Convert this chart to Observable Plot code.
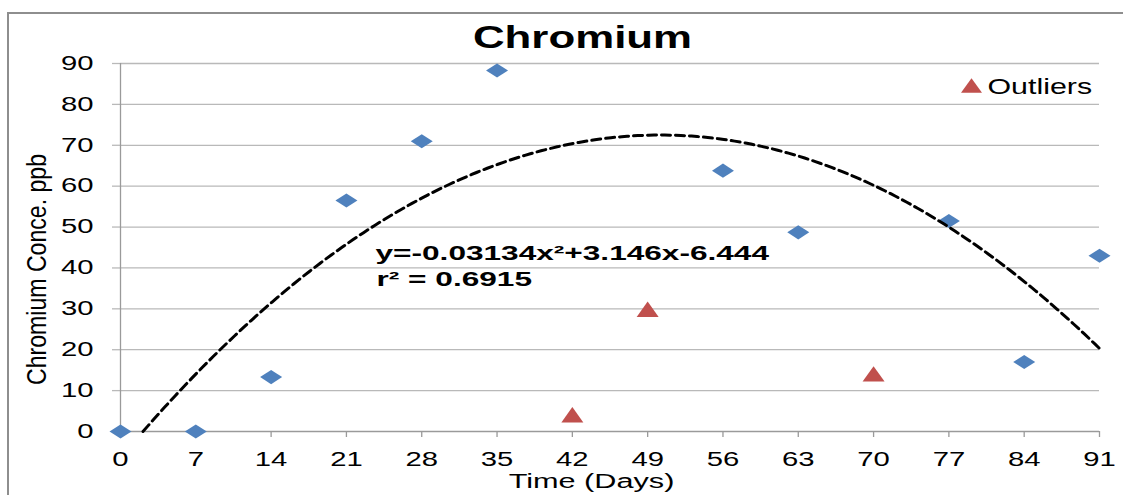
<!DOCTYPE html>
<html><head><meta charset="utf-8">
<script src="https://cdn.jsdelivr.net/npm/d3@7"></script>
<script src="https://cdn.jsdelivr.net/npm/@observablehq/plot@0.6"></script>
<style>
html,body{margin:0;padding:0;background:#fff;overflow:hidden;}
#wrap{position:relative;width:1123px;height:495px;}
#frame{position:absolute;left:7px;top:12px;width:1200px;height:600px;border:2px solid #8e8e8e;box-sizing:border-box;pointer-events:none;}
</style></head><body><div id="wrap"><div id="chart"></div><div id="frame"></div></div>
<script>
// ---- data ----
const days = [0, 7, 14, 21, 28, 35, 56, 63, 77, 84, 91];
const conc = [0, 0, 13.3, 56.5, 71, 88.3, 63.8, 48.7, 51.5, 17, 43];
const outlierDays = [42, 49, 70];
const outlierConc = [4.1, 29.9, 14.1];
const xTicks = [0, 7, 14, 21, 28, 35, 42, 49, 56, 63, 70, 77, 84, 91];
const yTicks = [0, 10, 20, 30, 40, 50, 60, 70, 80, 90];
const trendCoef = [-0.03134, 3.146, -6.444]; // a, b, c of displayed trendline
const titleText = "Chromium";
const legendLabel = "Outliers";
const eqLine1 = "y=-0.03134x²+3.146x-6.444";
const eqLine2 = "r² = 0.6915";
const xLabel = "Time (Days)";
const yLabel = "Chromium Conce. ppb";

// ---- tables ----
const points = days.map((d, i) => ({day: d, value: conc[i]}));
const outliers = outlierDays.map((d, i) => ({day: d, value: outlierConc[i]}));
const [a, b, c] = trendCoef;
const root = (-b + Math.sqrt(b * b - 4 * a * c)) / (2 * a);
const xMax = xTicks[xTicks.length - 1];
const trend = d3.range(root, xMax, 0.5).concat([xMax]).map(x => ({day: x, value: a * x * x + b * x + c}));

// ---- custom symbols ----
const diamondSym = {draw(ctx, size) {
  const r = Math.sqrt(size / Math.PI), w = r, h = r * 0.64;
  ctx.moveTo(0, -h); ctx.lineTo(w, 0); ctx.lineTo(0, h); ctx.lineTo(-w, 0); ctx.closePath();
}};
const triSym = {draw(ctx, size) {
  const r = Math.sqrt(size / Math.PI), w = r, h = r * 0.7;
  ctx.moveTo(0, -h); ctx.lineTo(w, h); ctx.lineTo(-w, h); ctx.closePath();
}};

const blue = "#4F81BD", red = "#C0504D", gridC = "#b9b9b9", axisC = "#9a9a9a";

const chart = Plot.plot({
  width: 1123, height: 495,
  marginLeft: 120, marginRight: 24, marginTop: 63, marginBottom: 64,
  style: {fontFamily: "'Liberation Sans', Arial, sans-serif", fontSize: "19px", color: "#000", background: "#fff"},
  x: {domain: [0, 91], ticks: xTicks},
  y: {domain: [0, 90], ticks: yTicks},
  marks: [
    Plot.gridY(yTicks.filter(v => v > 0), {stroke: gridC, strokeOpacity: 1, strokeWidth: 1.3}),
    Plot.axisY(yTicks, {tickSize: 8, tickPadding: 19, stroke: gridC, strokeWidth: 1.3, fill: "#000", fontSize: 19.5, label: null}),
    Plot.axisX(xTicks, {tickSize: 6, tickPadding: 15, stroke: axisC, strokeWidth: 1.3, fill: "#000", fontSize: 19.5, label: null}),
    Plot.ruleX([0], {stroke: axisC, strokeWidth: 1.3}),
    Plot.ruleY([0], {stroke: axisC, strokeWidth: 1.3}),
    Plot.dot(points, {x: "day", y: "value", symbol: diamondSym, r: 11, fill: blue}),
    Plot.dot(outliers, {x: "day", y: "value", symbol: triSym, r: 11, fill: red}),
    Plot.line(trend, {x: "day", y: "value", stroke: "#000", strokeWidth: 3, strokeDasharray: "9,5"}),
    // title
    Plot.text([titleText], {text: d => d, frameAnchor: "top-left", dx: 462, dy: -16, textAnchor: "middle", lineAnchor: "bottom", fontSize: 32, fontWeight: "bold", fill: "#000"}),
    // legend
    Plot.dot([legendLabel], {frameAnchor: "top-left", dx: 851, dy: 22, symbol: triSym, r: 10.5, fill: red}),
    Plot.text([legendLabel], {text: d => d, frameAnchor: "top-left", dx: 867, dy: 30, textAnchor: "start", lineAnchor: "bottom", fontSize: 22, fill: "#000"}),
    // equation
    Plot.text([eqLine1], {text: d => d, frameAnchor: "top-left", dx: 255, dy: 196, textAnchor: "start", lineAnchor: "bottom", fontSize: 20, fontWeight: "bold", fill: "#000"}),
    Plot.text([eqLine2], {text: d => d, frameAnchor: "top-left", dx: 256, dy: 222, textAnchor: "start", lineAnchor: "bottom", fontSize: 20, fontWeight: "bold", fill: "#000"}),
    // axis labels
    Plot.text([xLabel], {text: d => d, frameAnchor: "top-left", dx: 471, dy: 424, textAnchor: "middle", lineAnchor: "bottom", fontSize: 21, fill: "#000"}),
    Plot.text([yLabel], {text: d => d, frameAnchor: "top-left", dx: -75, dy: 206, rotate: -90, textAnchor: "middle", lineAnchor: "bottom", fontSize: 21, fill: "#000"})
  ]
});
document.getElementById("chart").appendChild(chart);

// horizontal stretch of text to match the reference's wide lettering
const stretch = new Map([[titleText, [1.37, 1]], [legendLabel, [1.38, 1]], [eqLine1, [1.58, 1]], [eqLine2, [1.58, 1]], [xLabel, [1.46, 1]], [yLabel, [1.1, 1.35]]]);
chart.querySelectorAll("text").forEach(t => {
  const s = t.textContent;
  const k = stretch.get(s) || (/^\d+$/.test(s) ? [1.5, 1] : null);
  if (!k) return;
  const tr = t.getAttribute("transform") || "";
  const x = t.getAttribute("x");
  let extra = "";
  if (x != null && !/em$/.test(x)) { extra = `translate(${+x || 0},0)`; t.removeAttribute("x"); }
  t.setAttribute("transform", `${tr} ${extra} scale(${k[0]},${k[1]})`);
});
</script></body></html>
